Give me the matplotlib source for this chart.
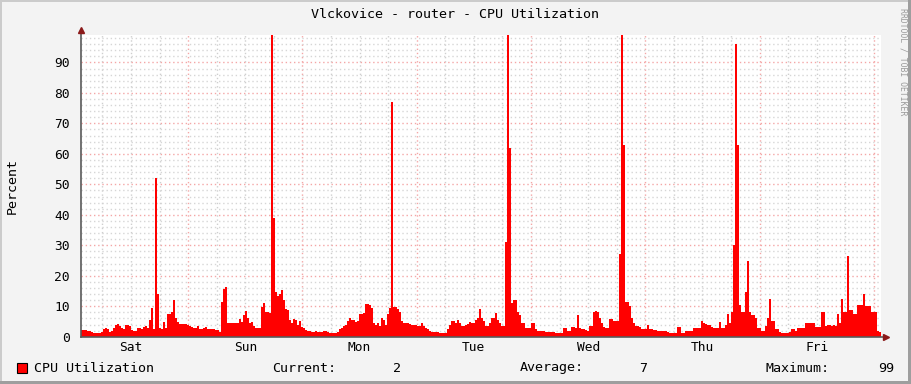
import numpy as np
import matplotlib
matplotlib.use("Agg")
import matplotlib.pyplot as plt
import matplotlib.patches as patches

# CPU utilization (%), one value per ~25 min, starting Sat 01:30
cpu = [
    2.2, 2.3, 2.2, 2.0, 1.8,   1.5, 1.3, 1.3, 1.2, 1.3,
    1.5, 2.5, 3.0, 2.6, 1.5,   2.0, 2.8, 4.0, 4.1, 3.5,
    2.8, 2.5, 3.8, 3.8, 3.6,   2.2, 2.0, 2.0, 2.8, 3.0,
    2.6, 3.3, 3.4, 3.0, 5.5,   9.3, 2.4, 52, 14, 2.7,
    2.5, 4.9, 3.0, 7.3, 7.6,   8.0, 12.2, 6.0, 4.7, 4.3,
    4.3, 4.2, 4.2, 4.0, 3.6,   3.2, 3.0, 2.8, 3.6, 2.6,
    2.5, 2.8, 3.2, 2.6, 2.5,   2.4, 2.6, 2.2, 2.3, 1.5,
    11.5, 15.5, 16.2, 4.5, 4.5,   4.4, 4.4, 4.6, 4.6, 5.8,
    4.8, 7.0, 8.3, 6.0, 4.6,   4.9, 3.5, 3.0, 3.0, 3.0,
    9.8, 10.9, 8.2, 8.0, 7.8,   99, 39, 14.7, 13.5, 14.0,
    15.3, 12.0, 9.2, 8.7, 5.5,   4.5, 5.7, 5.5, 4.0, 5.0,
    3.3, 3.0, 2.2, 2.0, 2.0,   1.6, 1.6, 1.8, 1.6, 1.5,
    1.6, 1.8, 2.0, 1.5, 1.3,   1.3, 1.2, 1.2, 1.5, 2.5,
    2.8, 3.5, 4.0, 5.0, 6.0,   5.5, 5.5, 4.8, 5.0, 7.6,
    7.6, 7.8, 10.6, 10.6, 10.3,   9.5, 4.4, 3.8, 4.5, 3.5,
    6.0, 5.5, 4.0, 7.6, 9.3,   77, 9.8, 9.8, 9.0, 8.0,
    5.0, 4.6, 4.4, 4.4, 4.2,   4.0, 4.0, 4.0, 3.6, 3.5,
    4.6, 3.5, 2.8, 2.5, 2.0,   1.6, 1.6, 1.6, 1.4, 1.2,
    1.2, 1.2, 1.3, 2.5, 4.0,   5.2, 5.0, 4.5, 5.5, 4.5,
    3.5, 3.6, 4.0, 4.2, 4.8,   4.5, 4.4, 5.5, 6.0, 9.0,
    6.0, 5.0, 3.5, 3.5, 4.5,   6.2, 6.2, 7.9, 5.5, 4.5,
    3.5, 3.5, 31, 99, 62,   10.9, 12.0, 12.0, 8.0, 7.0,
    4.6, 4.6, 3.0, 3.0, 3.0,   4.5, 4.5, 2.5, 2.0, 1.8,
    1.8, 1.8, 1.7, 1.7, 1.6,   1.5, 1.5, 1.3, 1.2, 1.2,
    1.2, 2.8, 2.8, 2.0, 2.0,   3.3, 3.3, 3.0, 7.1, 2.8,
    2.6, 2.4, 2.2, 2.0, 3.5,   3.5, 8.2, 8.5, 8.0, 6.0,
    4.5, 3.2, 3.0, 3.0, 5.7,   5.7, 5.0, 5.0, 5.0, 27,
    99, 63, 11.3, 11.3, 10.0,   6.0, 4.5, 3.5, 3.5, 3.2,
    2.5, 2.5, 2.5, 4.0, 2.5,   2.5, 2.3, 2.2, 2.0, 2.0,
    2.0, 2.0, 1.8, 1.5, 1.2,   1.2, 1.2, 1.2, 3.1, 3.1,
    1.2, 1.2, 1.8, 1.8, 2.0,   2.0, 2.8, 2.8, 2.8, 3.0,
    5.1, 4.5, 4.3, 4.0, 3.8,   3.2, 3.0, 3.0, 3.0, 4.9,
    3.0, 3.0, 4.0, 7.4, 4.5,   8.2, 30, 96, 63, 10.4,
    8.2, 8.2, 14.8, 25, 8.0,   7.1, 7.0, 6.0, 3.0, 3.0,
    2.0, 2.0, 3.5, 6.0, 12.5,   5.0, 5.0, 2.5, 2.5, 1.5,
    1.3, 1.2, 1.2, 1.3, 1.5,   2.5, 2.5, 2.0, 2.8, 2.8,
    2.8, 3.0, 4.5, 4.5, 4.4,   4.4, 4.4, 3.3, 3.3, 3.3,
    8.2, 8.2, 3.5, 4.0, 3.8,   3.5, 4.0, 3.5, 7.6, 4.5,
    12.5, 8.0, 8.0, 26.4, 8.7,   8.7, 7.5, 7.5, 10.4, 10.4,
    10.5, 13.9, 10.0, 10.0, 10.0,   8.2, 8.2, 8.0, 2.0, 1.5,
]
day_labels = ["Sat", "Sun", "Mon", "Tue", "Wed", "Thu", "Fri"]
start_hour = 1.5          # hours after Saturday 00:00
step_hours = 168 / len(cpu)
cur_val, avg_val, max_val = "2", "7", "99"

W, H = 911, 384
BACK = "#F3F3F3"
fig = plt.figure(figsize=(W / 100, H / 100), dpi=100, facecolor=BACK)

# plot area in pixels
left, right, top, bottom = 81, 881, 35, 336.7
ax = fig.add_axes([left / W, (H - bottom) / H, (right - left) / W, (bottom - top) / H])
ax.set_facecolor("white")

edges = start_hour + np.arange(len(cpu) + 1) * step_hours
ax.set_xlim(edges[0], edges[-1])
ax.set_ylim(0, 99)

# grid, drawn under the data like rrdtool
dot = (0, (1, 2))
for h in np.arange(6, 169, 6):
    if h % 24 == 0:
        ax.axvline(h, color="#F4A6A6", lw=1, ls=dot, zorder=1)
    else:
        ax.axvline(h, color="#CFCFCF", lw=1, ls=dot, zorder=1)
for v in range(2, 99, 2):
    if v % 10 == 0:
        ax.axhline(v, color="#F4A6A6", lw=1, ls=dot, zorder=1)
    else:
        ax.axhline(v, color="#D6D6D6", lw=1, ls=dot, zorder=1)

ax.stairs(cpu, edges, fill=True, color="#FF0000", lw=0, zorder=2)

for s in ax.spines.values():
    s.set_visible(False)
ax.tick_params(length=0)
ax.set_xticks([12 + 24 * i for i in range(len(day_labels))])
ax.set_xticklabels(day_labels, family="DejaVu Sans Mono", fontsize=9.3)
ax.set_yticks(range(0, 91, 10))
ax.set_yticklabels([str(v) for v in range(0, 91, 10)], family="DejaVu Sans Mono", fontsize=9.3)
ax.tick_params(axis="x", pad=3)
ax.tick_params(axis="y", pad=8)

# axes with arrows
axis_col = "#5A5A5A"
ax.plot([0, 1.005], [0, 0], transform=ax.transAxes, color=axis_col, lw=1.2, clip_on=False, zorder=5)
ax.plot([0, 0], [0, 1.013], transform=ax.transAxes, color=axis_col, lw=1.2, clip_on=False, zorder=5)
ax.plot(1.006, 0, marker=">", ms=5, color="#8B1A1A", transform=ax.transAxes, clip_on=False, zorder=6)
ax.plot(0, 1.015, marker="^", ms=5, color="#8B1A1A", transform=ax.transAxes, clip_on=False, zorder=6)

mono = "DejaVu Sans Mono"
def px_text(x, y, s, **kw):
    fig.text(x / W, 1 - y / H, s, family=mono, **kw)

px_text(455, 14, "Vlckovice - router - CPU Utilization", fontsize=9.6, ha="center", va="center")
px_text(12, 186, "Percent", fontsize=9.6, ha="center", va="center", rotation=90)
px_text(903, 62, "RRDTOOL / TOBI OETIKER", fontsize=5.9, ha="center", va="center",
        rotation=270, color="#9A9A9A")

# legend line
fig.add_artist(patches.Rectangle((17 / W, 1 - 373 / H), 10 / W, 10 / H, transform=fig.transFigure,
                                 facecolor="#FF0000", edgecolor="black", lw=0.8))
ly = 368
px_text(34, ly, "CPU Utilization", fontsize=9.6, va="center")
px_text(272, ly, "Current:", fontsize=9.6, va="center")
px_text(401, ly, cur_val, fontsize=9.6, va="center", ha="right")
px_text(520, ly, "Average:", fontsize=9.6, va="center")
px_text(647, ly, avg_val, fontsize=9.6, va="center", ha="right")
px_text(765, ly, "Maximum:", fontsize=9.6, va="center")
px_text(894, ly, max_val, fontsize=9.6, va="center", ha="right")

# 3D border of the canvas
fig.add_artist(patches.Rectangle((0, 1 - 2 / H), 1, 2 / H, transform=fig.transFigure,
                                 facecolor="#CBCBCB", lw=0))
fig.add_artist(patches.Rectangle((0, 0), 2 / W, 1, transform=fig.transFigure,
                                 facecolor="#CBCBCB", lw=0))
fig.add_artist(patches.Rectangle((0, 0), 1, 3 / H, transform=fig.transFigure,
                                 facecolor="#9E9E9E", lw=0))
fig.add_artist(patches.Rectangle((1 - 3 / W, 0), 3 / W, 1, transform=fig.transFigure,
                                 facecolor="#9E9E9E", lw=0))

fig.savefig("out.png", dpi=100, facecolor=BACK)
